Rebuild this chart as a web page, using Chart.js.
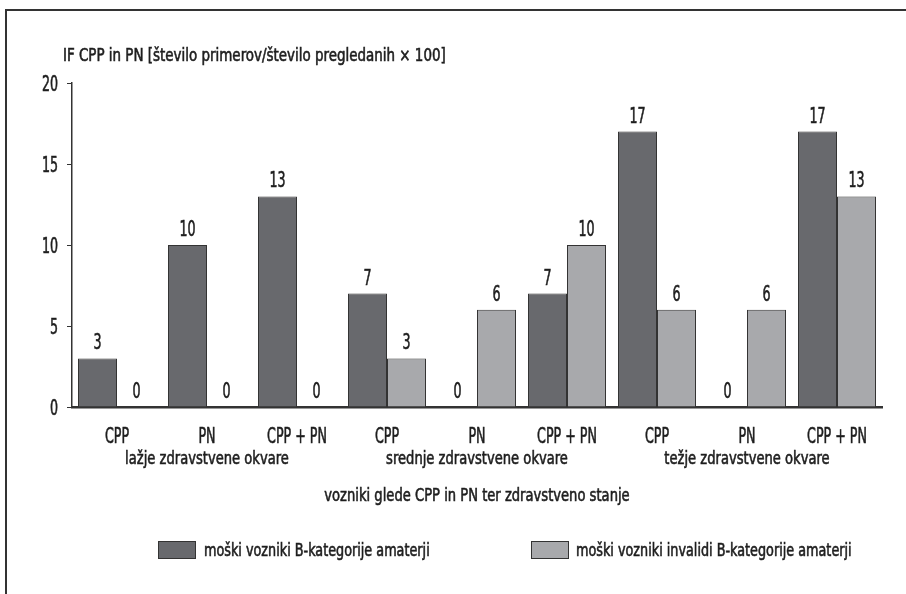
<!DOCTYPE html>
<html>
<head>
<meta charset="utf-8">
<title>IF CPP in PN</title>
<script src="https://cdn.jsdelivr.net/npm/chart.js@4.4.0/dist/chart.umd.min.js"></script>
<style>
    html, body { margin: 0; padding: 0; background: #fff; }
    #wrap { width: 906px; height: 594px; }
</style>
</head>
<body>
<div id="wrap"><canvas id="chart" width="906" height="594"></canvas></div>
<script>
// podatki z grafa
const categories = ['CPP', 'PN', 'CPP + PN', 'CPP', 'PN', 'CPP + PN', 'CPP', 'PN', 'CPP + PN'];
const groups = ['lažje zdravstvene okvare', 'srednje zdravstvene okvare', 'težje zdravstvene okvare'];
const amaterji = [3, 10, 13, 7, 0, 7, 17, 0, 17];
const invalidi = [0, 0, 0, 3, 6, 10, 6, 6, 13];
const yTickValues = [0, 5, 10, 15, 20];

const seriesNames = ['moški vozniki B-kategorije amaterji', 'moški vozniki invalidi B-kategorije amaterji'];
const yTitle = 'IF CPP in PN [število primerov/število pregledanih × 100]';
const xTitle = 'vozniki glede CPP in PN ter zdravstveno stanje';

const FONT = "'DejaVu Sans Condensed', 'DejaVu Sans', sans-serif";
const TEXT = '#1e1e1e';
const LINE = '#333';

// original je v zoženi pisavi, zato napise stisnemo vodoravno
const BIG = { size: 21, squeeze: 0.67 };
const SMALL = { size: 18, squeeze: 0.81 };
const LEGEND = { size: 18, squeeze: 0.79 };
const TITLE = { size: 18, squeeze: 0.83 };

function narrowText(ctx, text, x, y, style, align) {
    ctx.save();
    ctx.font = style.size + 'px ' + FONT;
    ctx.fillStyle = TEXT;
    ctx.strokeStyle = TEXT;
    ctx.lineWidth = 0.6;
    ctx.textAlign = align;
    ctx.textBaseline = 'alphabetic';
    ctx.translate(x, y);
    ctx.scale(style.squeeze, 1);
    ctx.fillText(text, 0, 0);
    ctx.strokeText(text, 0, 0);
    ctx.restore();
}

const decorPlugin = {
    id: 'decor',
    beforeDraw(chart) {
        const ctx = chart.ctx;
        ctx.save();
        ctx.strokeStyle = LINE;
        ctx.lineWidth = 2;
        ctx.beginPath();
        ctx.moveTo(6, 594);
        ctx.lineTo(6, 10);
        ctx.lineTo(906, 10);
        ctx.stroke();
        ctx.restore();
        narrowText(ctx, yTitle, chart.chartArea.left - 9, 61, TITLE, 'left');
    },
    afterDatasetsDraw(chart) {
        const ctx = chart.ctx;
        chart.data.datasets.forEach((ds, i) => {
            chart.getDatasetMeta(i).data.forEach((bar, j) => {
                narrowText(ctx, String(ds.data[j]), bar.x, bar.y - 9, BIG, 'center');
            });
        });
    },
    afterDraw(chart) {
        const ctx = chart.ctx;
        const xs = chart.scales.x;
        const ys = chart.scales.y;

        // oznake osi y
        yTickValues.forEach(v => {
            narrowText(ctx, String(v), xs.left - 14, ys.getPixelForValue(v) + 7.5, BIG, 'right');
        });

        // kategorije in skupine
        categories.forEach((c, i) => {
            narrowText(ctx, c, xs.getPixelForTick(i), 443, BIG, 'center');
        });
        groups.forEach((g, k) => {
            const cx = (xs.getPixelForTick(3 * k) + xs.getPixelForTick(3 * k + 2)) / 2;
            narrowText(ctx, g, cx, 464, SMALL, 'center');
        });
        narrowText(ctx, xTitle, (xs.left + xs.right) / 2, 501, SMALL, 'center');

        // legenda
        const items = [
            { box: 158, text: 204 },
            { box: 531, text: 576 }
        ];
        chart.data.datasets.forEach((ds, i) => {
            ctx.save();
            ctx.fillStyle = ds.backgroundColor;
            ctx.strokeStyle = LINE;
            ctx.lineWidth = 1;
            ctx.fillRect(items[i].box, 541, 38, 18);
            ctx.strokeRect(items[i].box + 0.5, 541.5, 37, 17);
            ctx.restore();
            narrowText(ctx, ds.label, items[i].text, 556, LEGEND, 'left');
        });
    }
};

new Chart(document.getElementById('chart'), {
    type: 'bar',
    data: {
        labels: categories,
        datasets: [{
            label: seriesNames[0],
            data: amaterji,
            backgroundColor: '#68696d',
            borderColor: LINE,
            borderWidth: 1
        }, {
            label: seriesNames[1],
            data: invalidi,
            backgroundColor: '#a8a9ac',
            borderColor: LINE,
            borderWidth: 1
        }]
    },
    options: {
        responsive: false,
        animation: false,
        devicePixelRatio: 1,
        categoryPercentage: 0.867,
        barPercentage: 1.0,
        layout: {
            padding: { top: 83, left: 32, right: 24, bottom: 20 }
        },
        scales: {
            x: {
                grid: { display: false, drawTicks: false },
                border: { display: true, color: LINE, width: 2.5 },
                ticks: { display: false },
                afterFit(scale) { scale.height = 167; }
            },
            y: {
                min: 0,
                max: 20,
                afterBuildTicks(scale) {
                    scale.ticks = yTickValues.map(v => ({ value: v }));
                },
                afterFit(scale) { scale.width = 40; },
                grid: { display: true, drawOnChartArea: false, drawTicks: true, tickLength: 5, color: LINE },
                border: { display: true, color: LINE, width: 1.5 },
                ticks: { display: false }
            }
        },
        plugins: {
            legend: { display: false },
            tooltip: { enabled: false }
        }
    },
    plugins: [decorPlugin]
});
</script>
</body>
</html>
